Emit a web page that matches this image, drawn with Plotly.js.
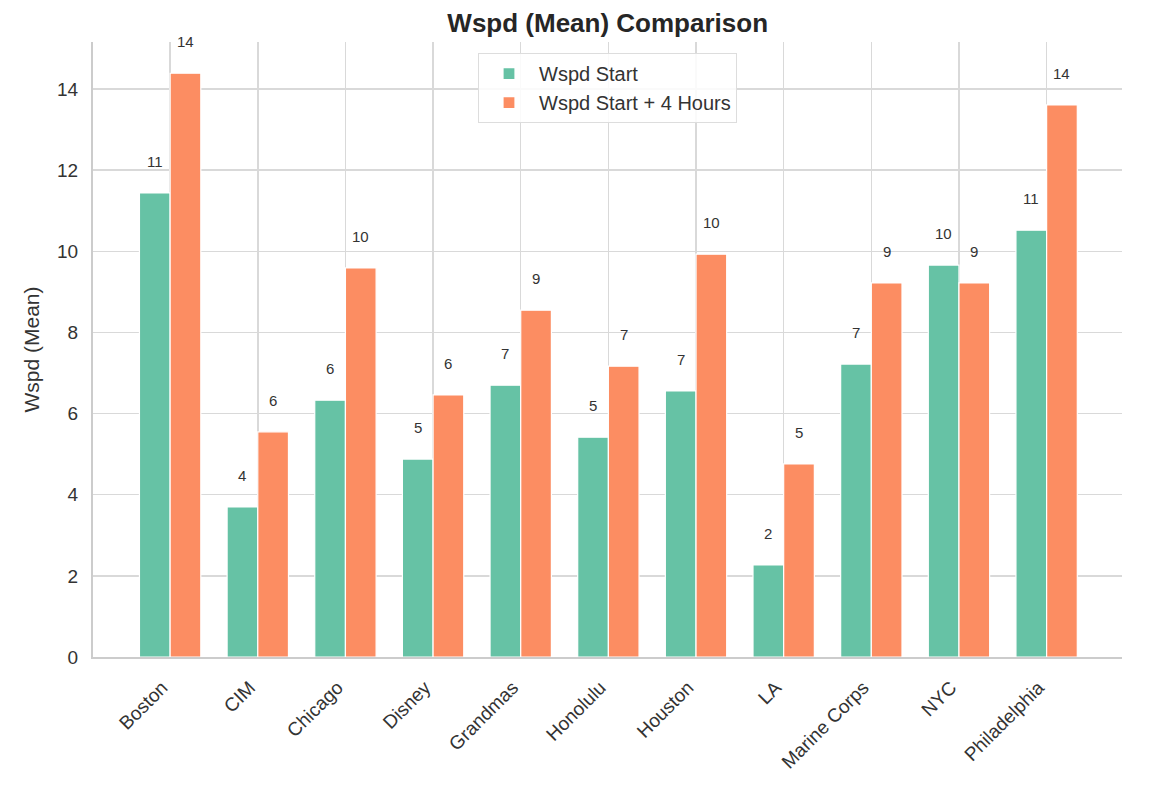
<!DOCTYPE html>
<html>
<head>
<meta charset="utf-8">
<script src="https://cdn.plot.ly/plotly-3.0.1.min.js"></script>
<style>html,body{margin:0;padding:0;background:#fff;}#chart{width:1172px;height:796px;}</style>
</head>
<body>
<div id="chart"></div>
<script>
const categories = ["Boston","CIM","Chicago","Disney","Grandmas","Honolulu","Houston","LA","Marine Corps","NYC","Philadelphia"];
const wspdStart = [11.44, 3.70, 6.33, 4.88, 6.70, 5.42, 6.56, 2.27, 7.22, 9.66, 10.52];
const wspdStart4h = [14.39, 5.55, 9.59, 6.46, 8.55, 7.17, 9.93, 4.76, 9.22, 9.22, 13.61];
const seriesNames = ["Wspd Start", "Wspd Start + 4 Hours"];
const colors = ["#66c2a5", "#fc8d62"];

const fontFam = "Liberation Sans, Arial, sans-serif";
const series = [wspdStart, wspdStart4h];
const traces = series.map((vals, k) => ({
  type: "bar",
  name: seriesNames[k],
  x: categories,
  y: vals,
  marker: {color: colors[k], line: {color: "#ffffff", width: 1.2}},
  hoverinfo: "x+y"
}));

const annotations = [];
series.forEach((vals, k) => {
  vals.forEach((v, i) => {
    annotations.push({
      x: i + (k === 0 ? -0.175 : 0.175),
      y: v,
      xref: "x", yref: "y",
      text: String(Math.round(v)),
      showarrow: false,
      yanchor: "bottom",
      yshift: 21,
      font: {family: fontFam, size: 15, color: "#333333"}
    });
  });
});

const layout = {
  width: 1172, height: 796,
  margin: {l: 93, r: 50, t: 42, b: 139},
  paper_bgcolor: "#ffffff",
  plot_bgcolor: "#ffffff",
  barmode: "group",
  bargap: 0.3,
  bargroupgap: 0,
  title: {text: "<b>Wspd (Mean) Comparison</b>", x: 0.5185, xanchor: "center", y: 0.971, yanchor: "middle",
          font: {family: fontFam, size: 26, color: "#262626"}},
  font: {family: fontFam, color: "#333333"},
  xaxis: {
    type: "category",
    range: [-0.88, 10.86],
    tickangle: -45,
    ticklabelstandoff: 10,
    ticklabelshift: -8,
    tickfont: {family: fontFam, size: 19, color: "#333333"},
    showgrid: true, gridcolor: "#d9d9d9", gridwidth: 1.5,
    showline: true, linecolor: "#cccccc", linewidth: 2,
    ticks: "", zeroline: false
  },
  yaxis: {
    range: [0, 15.16],
    tickvals: [0,2,4,6,8,10,12,14],
    ticklabelstandoff: 9,
    tickfont: {family: fontFam, size: 19, color: "#333333"},
    title: {text: "Wspd (Mean)", font: {family: fontFam, size: 21, color: "#333333"}, standoff: 12},
    showgrid: true, gridcolor: "#d9d9d9", gridwidth: 1.5,
    showline: true, linecolor: "#cccccc", linewidth: 2,
    ticks: "", zeroline: false
  },
  legend: {
    x: 0.5, xanchor: "center", y: 0.982, yanchor: "top",
    bgcolor: "rgba(255,255,255,0.85)", bordercolor: "#dddddd", borderwidth: 1,
    font: {family: fontFam, size: 20, color: "#333333"},
    itemwidth: 50,
    tracegroupgap: 4
  },
  annotations: annotations,
  showlegend: true
};

Plotly.newPlot("chart", traces, layout, {displayModeBar: false, staticPlot: true});
</script>
</body>
</html>
